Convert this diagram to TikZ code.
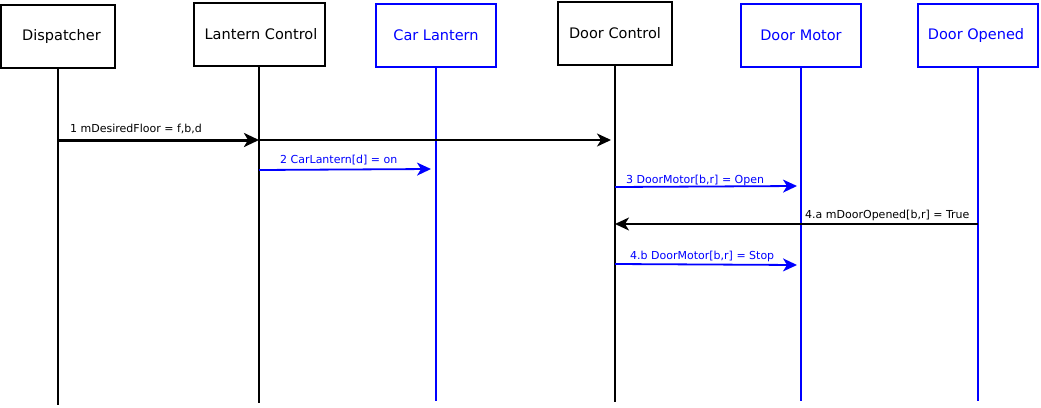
\documentclass[tikz,border=0pt]{standalone}
\usepackage{fontspec}
\setmainfont{DejaVu Sans}
\usetikzlibrary{arrows.meta}
\definecolor{bl}{RGB}{0,0,255}
\begin{document}
\begin{tikzpicture}[x=1pt,y=-1pt,
  obj/.style={draw=black, line width=2pt, minimum height=63pt, inner sep=0pt, font=\fontsize{14.5}{16}\selectfont},
  bobj/.style={obj, draw=bl, text=bl},
  life/.style={line width=1.8pt, draw=black},
  blife/.style={life, draw=bl},
  msg/.style={line width=1.8pt, draw=black, -{Stealth[length=14pt,width=13pt,inset=4pt]}},
  bmsg/.style={msg, draw=bl},
  lbl/.style={font=\fontsize{11}{13}\selectfont, inner sep=0pt, anchor=base west},
  blbl/.style={lbl, text=bl}
]
\useasboundingbox (0,0) rectangle (1041,407);

% objects
\node[obj,  minimum width=114pt] (disp) at (58,36)  {\hspace*{7pt}Dispatcher};
\node[obj,  minimum width=131pt] (lc)   at (259,34) {\hspace*{4pt}Lantern Control};
\node[bobj, minimum width=120pt] (cl)   at (436,35) {Car Lantern};
\node[obj,  minimum width=114pt] (dc)   at (615,33) {Door Control};
\node[bobj, minimum width=120pt] (dm)   at (801,35) {Door Motor};
\node[bobj, minimum width=120pt] (do)   at (978,35) {Door Opened\hspace*{4pt}};

% lifeline ends
\coordinate (dispE) at (58,405);
\coordinate (lcE)   at (259,403);
\coordinate (clE)   at (436,401);
\coordinate (dcE)   at (615,402);
\coordinate (dmE)   at (801,401);
\coordinate (doE)   at (978,401);

\draw[life]  (disp.south) -- (dispE);
\draw[life]  (lc.south)   -- (lcE);
\draw[blife] (cl.south)   -- (clE);
\draw[life]  (dc.south)   -- (dcE);
\draw[blife] (dm.south)   -- (dmE);
\draw[blife] (do.south)   -- (doE);

% message end points
\coordinate (m1a) at (58,140);
\coordinate (m1b) at (259,140);
\coordinate (m1c) at (611,140);
\coordinate (m2a) at (259,170);
\coordinate (m2b) at (431,169);
\coordinate (m3a) at (615,187);
\coordinate (m3b) at (797,186);
\coordinate (m4a) at (978,224);
\coordinate (m4b) at (615,224);
\coordinate (m5a) at (615,264);
\coordinate (m5b) at (797,265);

% messages
\draw[msg, line width=3pt, -{Stealth[length=15pt,width=14pt,inset=4pt]}] (m1a) -- (m1b);
\draw[msg] (m1b) -- (m1c);
\node[lbl] (l1) at (70,132) {1 mDesiredFloor = f,b,d};

\draw[bmsg] (m2a) -- (m2b);
\node[blbl] (l2) at (280,163) {2 CarLantern[d] = on};

\draw[bmsg] (m3a) -- (m3b);
\node[blbl] (l3) at (626,183) {3 DoorMotor[b,r] = Open};

\draw[msg] (m4a) -- (m4b);
\node[lbl] (l4) at (805,218) {4.a mDoorOpened[b,r] = True};

\draw[bmsg] (m5a) -- (m5b);
\node[blbl] (l5) at (630,259) {4.b DoorMotor[b,r] = Stop};
\end{tikzpicture}
\end{document}
